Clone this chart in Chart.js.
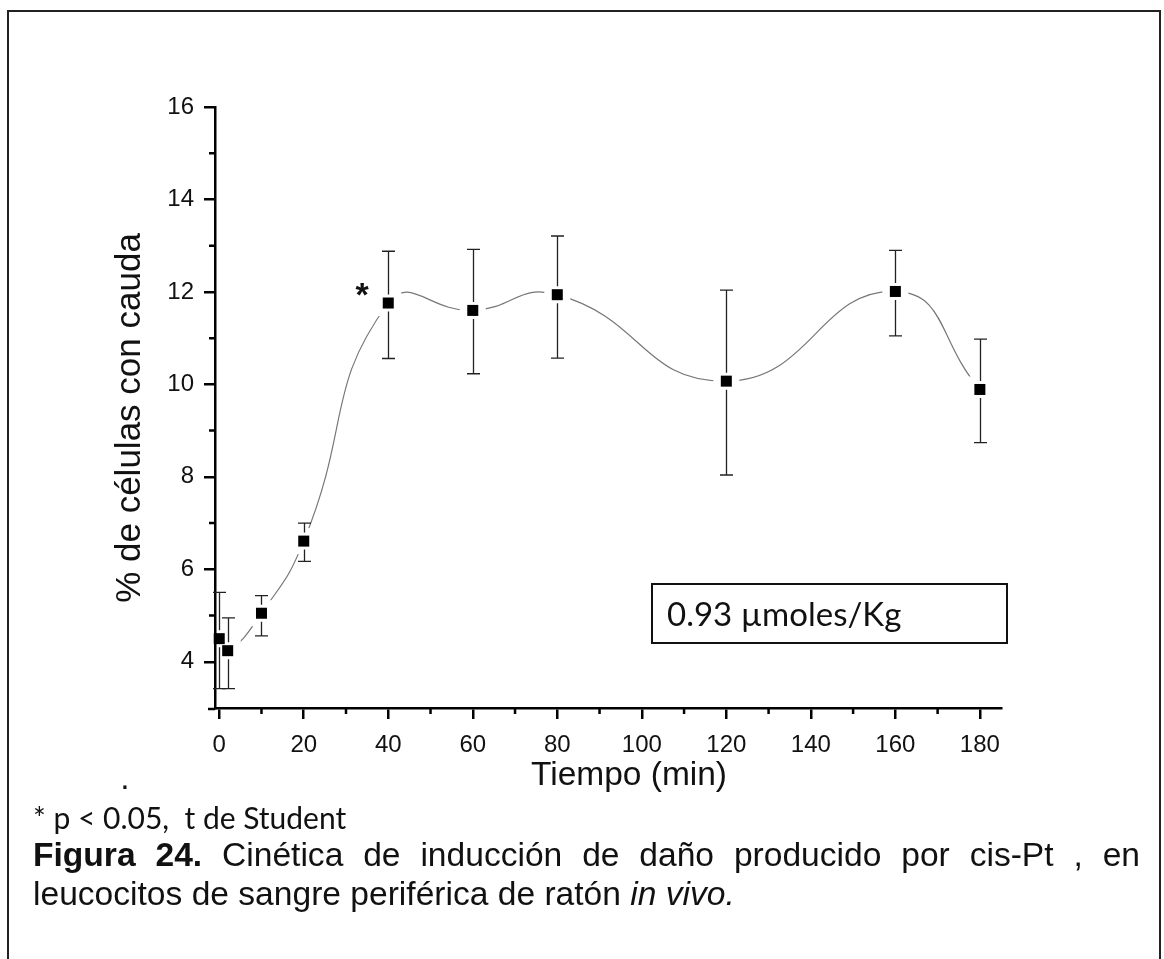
<!DOCTYPE html>
<html>
<head>
<meta charset="utf-8">
<script src="https://cdn.jsdelivr.net/npm/chart.js@4.4.1/dist/chart.umd.min.js"></script>
<style>
  html, body { margin: 0; padding: 0; background: #fff; }
  #wrap { position: relative; width: 1164px; height: 959px; overflow: hidden; }
  #graf { position: absolute; left: 0; top: 0; }
  .nota { position: absolute; left: 33px; top: 799px; font: 30px Lato, sans-serif; color: #111; white-space: pre; }
  .pie { position: absolute; left: 33px; width: 1107px; font: 33.6px "Liberation Sans", Arial, sans-serif; color: #111; white-space: nowrap; }
  .l1 { top: 836px; text-align: justify; text-align-last: justify; }
  .l2 { top: 875px; }
</style>
</head>
<body>
<div id="wrap">
  <canvas id="graf" width="1164" height="959"></canvas>
  <div class="nota">* p &lt; 0.05,  t de Student</div>
  <div class="pie l1"><b>Figura 24.</b> Cinética de inducción de daño producido por cis-Pt , en</div>
  <div class="pie l2">leucocitos de sangre periférica de ratón <i>in vivo.</i></div>
</div>
<script>
// tiempo (min) y % de celulas con cauda
var tiempos = [0, 2, 10, 20, 40, 60, 80, 120, 160, 180];
var medias = [4.50, 4.24, 5.05, 6.61, 11.76, 11.60, 11.94, 10.07, 12.01, 9.89];
var errInf = [3.42, 3.42, 4.56, 6.17, 10.56, 10.23, 10.57, 8.04, 11.05, 8.74];
var errSup = [5.50, 4.95, 5.43, 7.00, 12.88, 12.92, 13.21, 12.04, 12.90, 10.98];
var ticksX = [0, 20, 40, 60, 80, 100, 120, 140, 160, 180];
var ticksY = [4, 6, 8, 10, 12, 14, 16];
var menoresX = [10, 30, 50, 70, 90, 110, 130, 150, 170];
var menoresY = [5, 7, 9, 11, 13, 15];

var fuenteEje = '"Liberation Sans", Arial, sans-serif';

var extras = {
    id: 'extras',
    afterDatasetsDraw: function (chart) {
        var ctx = chart.ctx, sx = chart.scales.x, sy = chart.scales.y, a = chart.chartArea;
        var lado = 11, hueco = 3;
        ctx.save();
        // huecos blancos alrededor de los marcadores
        ctx.beginPath();
        ctx.rect(a.left + 2, a.top, a.right - a.left, a.bottom - a.top - 2);
        ctx.clip();
        ctx.fillStyle = '#fff';
        tiempos.forEach(function (t, i) {
            var px = sx.getPixelForValue(t), py = sy.getPixelForValue(medias[i]);
            ctx.fillRect(px - 13, py - 13, 26, 26);
        });
        ctx.restore();

        ctx.save();
        ctx.strokeStyle = '#222';
        ctx.lineWidth = 1.3;
        tiempos.forEach(function (t, i) {
            var px = Math.round(sx.getPixelForValue(t)) + 0.5;
            var py = sy.getPixelForValue(medias[i]);
            var hi = sy.getPixelForValue(errSup[i]), lo = sy.getPixelForValue(errInf[i]);
            ctx.beginPath();
            ctx.moveTo(px, hi); ctx.lineTo(px, py - lado / 2 - hueco);
            ctx.moveTo(px, py + lado / 2 + hueco); ctx.lineTo(px, lo);
            ctx.moveTo(px - 6.5, hi); ctx.lineTo(px + 6.5, hi);
            ctx.moveTo(px - 6.5, lo); ctx.lineTo(px + 6.5, lo);
            ctx.stroke();
        });
        ctx.fillStyle = '#000';
        tiempos.forEach(function (t, i) {
            var px = sx.getPixelForValue(t), py = sy.getPixelForValue(medias[i]);
            ctx.fillRect(px - lado / 2, py - lado / 2, lado, lado);
        });
        ctx.restore();
    },
    afterDraw: function (chart) {
        var ctx = chart.ctx, sx = chart.scales.x, sy = chart.scales.y, a = chart.chartArea;
        ctx.save();
        // ticks menores y prolongacion del eje x
        ctx.strokeStyle = '#000';
        ctx.lineWidth = 2.5;
        ctx.beginPath();
        menoresX.forEach(function (v) {
            var px = sx.getPixelForValue(v);
            ctx.moveTo(px, a.bottom); ctx.lineTo(px, a.bottom + 6);
        });
        menoresY.forEach(function (v) {
            var py = sy.getPixelForValue(v);
            ctx.moveTo(a.left, py); ctx.lineTo(a.left - 6, py);
        });
        ctx.moveTo(a.left - 7, a.bottom + 1); ctx.lineTo(a.left, a.bottom + 1);
        ctx.stroke();

        // marco exterior
        ctx.strokeStyle = '#222';
        ctx.lineWidth = 2;
        ctx.strokeRect(8, 11, 1152, 960);

        // titulos de ejes
        ctx.fillStyle = '#111';
        ctx.font = '35px ' + fuenteEje;
        ctx.textAlign = 'center';
        ctx.textBaseline = 'middle';
        ctx.save();
        ctx.translate(130, 418);
        ctx.rotate(-Math.PI / 2);
        ctx.fillText('% de células con cauda', 0, 0);
        ctx.restore();
        ctx.font = '33.5px ' + fuenteEje;
        ctx.fillText('Tiempo (min)', 629, 776);
        ctx.fillText('.', 125, 780);

        // asterisco
        ctx.font = 'bold 34px ' + fuenteEje;
        ctx.fillText('*', 362, 297);

        // recuadro de dosis
        ctx.strokeStyle = '#111';
        ctx.lineWidth = 2;
        ctx.strokeRect(652, 584, 355, 59);
        ctx.textAlign = 'left';
        ctx.textBaseline = 'alphabetic';
        ctx.font = '33px Lato, sans-serif';
        ctx.fillText('0.93 µmoles/Kg', 667, 626);
        ctx.restore();
    }
};

var ctx = document.getElementById('graf').getContext('2d');
var grafico = new Chart(ctx, {
    type: 'line',
    data: {
        datasets: [{
            data: tiempos.map(function (t, i) { return {x: t, y: medias[i]}; }),
            borderColor: '#777',
            borderWidth: 1.2,
            tension: 0.5,
            pointRadius: 0,
            fill: false
        }]
    },
    options: {
        responsive: false,
        animation: false,
        events: [],
        layout: {padding: {left: 0, top: 107, right: 163, bottom: 0}},
        plugins: {legend: {display: false}, tooltip: {enabled: false}},
        scales: {
            x: {
                type: 'linear',
                min: -1,
                max: 185,
                afterBuildTicks: function (s) { s.ticks = ticksX.map(function (v) { return {value: v}; }); },
                afterFit: function (s) { s.height = 251; },
                border: {color: '#000', width: 2.5},
                grid: {drawOnChartArea: false, color: '#000', lineWidth: 2.5, tickLength: 11},
                ticks: {color: '#111', font: {family: fuenteEje, size: 24}, padding: 12, maxRotation: 0}
            },
            y: {
                type: 'linear',
                min: 3,
                max: 16,
                afterBuildTicks: function (s) { s.ticks = ticksY.map(function (v) { return {value: v}; }); },
                afterFit: function (s) { s.width = 215; },
                border: {color: '#000', width: 2.5},
                grid: {drawOnChartArea: false, color: '#000', lineWidth: 2.5, tickLength: 11},
                ticks: {color: '#111', font: {family: fuenteEje, size: 24}, padding: 10}
            }
        }
    },
    plugins: [extras]
});
</script>
</body>
</html>
